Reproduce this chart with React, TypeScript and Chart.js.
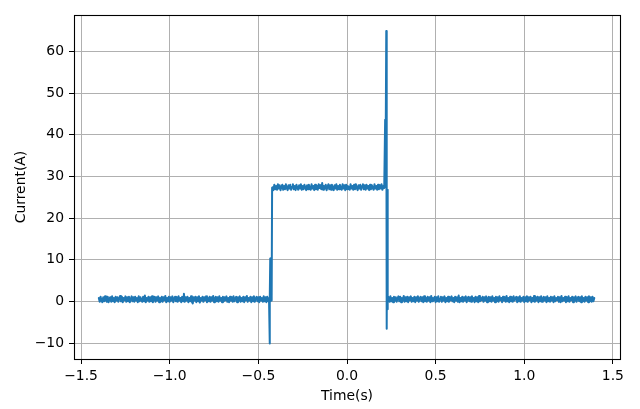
import React, { useEffect, useRef } from "react";
import { Chart, registerables } from "chart.js";

Chart.register(...registerables);

// Sampled current (A); uniform sampling segments
const sampleStep = 0.005;
const offStart = -1.4; // first "off" segment start time (s)
const offValues = [
  0.8, -0.1, 1.1, 0.2, -0.2, 1.0, 0.0, 1.2, 0.3, -0.1,
  1.1, -0.2, 0.7, 1.0, -0.1, 1.2, 0.0, 0.8, -0.2, 1.1,
  0.2, 1.0, -0.1, 0.7, 1.3, 0.0, 1.1, -0.2, 0.8, 0.3,
  1.2, -0.1, 1.0, 0.0, 1.1, -0.2, 0.5, 1.2, 0.0, 1.0,
  -0.1, 1.1, 0.2, 0.8, -0.2, 1.2, 0.0, 1.0, 0.3, -0.1,
  1.1, 0.0, 1.4, -0.2, 0.8, 0.2, 1.1, -0.1, 1.0, 0.0,
  1.2, -0.2, 0.7, 1.1, -0.1, 1.0, 0.2, 1.2, -0.2, 0.8,
  0.0, 1.1, -0.1, 1.0, 0.3, 1.3, -0.2, 0.8, 0.0, 1.1,
  -0.1, 1.0, 0.2, 1.2, -0.2, 0.7, 1.1, 0.0, 1.0, -0.1,
  1.2, 0.2, 0.8, -0.2, 1.1, 0.0, 1.8, -0.1, 1.0, 0.2,
  1.1, -0.2, 0.8, 0.0, 1.2, -0.1, -0.5, 1.0, 0.2, 1.1,
  -0.2, 1.0, 0.0, 1.2, -0.3, 0.8, 0.2, 1.1, -0.1, 1.0,
  0.3, 1.2, -0.2, 0.8, 0.0, 1.1, -0.1, 1.0, 0.2, 1.3,
  -0.2, 0.7, 1.1, 0.0, 1.0, -0.1, 1.2, 0.2, 0.8, -0.2,
  1.1, 0.0, 1.0, 0.3, 1.2, -0.1, 0.8, -0.2, 1.1, 0.2,
  1.0, -0.1, 1.2, 0.0, 0.7, 1.1, -0.2, 1.0, 0.2, 1.2,
  -0.1, 0.8, 0.0, 1.1, -0.2, 1.0, 0.3, 1.3, -0.1, 0.8,
  0.2, 1.1, -0.2, 1.0, 0.0, 1.2, -0.1, 0.7, 1.1, 0.0,
  1.0, -0.2, 1.1, 0.2, 0.8, -0.1, 1.2, 0.0, 1.0, -0.2,
  1.1, 0.0, 0.8,
];

// switch-on transient (time, current)
const turnOnTimes = [-0.437, -0.4355, -0.4345, -0.433, -0.432, -0.428, -0.425, -0.4225];
const turnOnValues = [0.5, -10.1, 0.6, 10.3, 0.0, 1.0, 0.2, 27.3];

const onStart = -0.42;
const onValues = [
  27.4, 26.7, 28.0, 26.9, 27.7, 26.8, 28.1, 27.1, 27.9, 26.7,
  27.5, 28.0, 26.8, 27.7, 26.9, 28.1, 27.2, 26.7, 27.9, 27.1,
  28.0, 26.8, 27.5, 28.1, 26.9, 27.7, 26.7, 28.0, 27.2, 26.8,
  27.9, 27.1, 28.1, 26.8, 27.7, 26.9, 28.0, 27.4, 26.7, 27.9,
  26.9, 28.0, 27.2, 26.8, 28.1, 27.1, 27.7, 26.7, 28.0, 26.9,
  27.7, 26.8, 28.1, 27.2, 27.9, 26.9, 28.4, 26.8, 27.7, 27.1,
  28.0, 26.7, 27.5, 28.1, 26.9, 27.9, 26.8, 28.0, 27.2, 26.7,
  27.9, 27.1, 28.1, 26.8, 27.7, 26.9, 28.0, 27.2, 26.8, 28.1,
  27.1, 27.9, 26.7, 28.0, 26.9, 27.7, 27.4, 26.8, 28.1, 27.1,
  27.7, 26.8, 28.0, 26.9, 28.1, 27.2, 26.7, 27.9, 27.1, 28.0,
  26.8, 27.7, 28.1, 26.9, 27.9, 26.8, 28.0, 27.1, 27.7, 26.7,
  28.0, 26.9, 27.9, 27.2, 26.8, 28.1, 27.1, 27.7, 26.8, 28.0,
  26.9, 27.9, 27.1, 28.1, 26.8, 27.7, 27.2,
];

// switch-off transient (time, current)
const turnOffTimes = [0.2152, 0.217, 0.2215, 0.2225, 0.224, 0.2255, 0.2265, 0.228, 0.2295, 0.231];
const turnOffValues = [43.6, 27.4, 64.9, 27.6, 27.2, -6.6, 26.8, 0.5, -1.9, 1.2];

const offStart2 = 0.235;
const offValues2 = [
  1.0, -0.1, 1.2, 0.0, 0.8, -0.2, 1.1, 0.2, 1.0, -0.1,
  0.7, 1.2, 0.0, 1.1, -0.2, 0.8, 0.2, 1.3, -0.1, 1.0,
  0.0, 1.1, -0.2, 1.0, 0.3, 1.2, -0.1, 0.8, 0.0, 1.1,
  -0.2, 1.0, 0.2, 1.2, -0.1, 0.7, 1.1, 0.0, 1.0, -0.2,
  1.2, 0.0, 0.8, -0.1, 1.1, 0.2, 1.0, -0.2, 1.3, 0.0,
  0.8, 0.3, 1.1, -0.2, 1.0, 0.0, 1.2, -0.1, 0.7, 1.1,
  -0.1, 1.0, 0.2, 1.2, -0.2, 0.8, 0.0, 1.1, -0.1, 1.0,
  0.3, 1.2, 0.0, 0.8, -0.2, 1.1, 0.2, 1.0, -0.1, 1.4,
  -0.2, 0.8, 0.0, 1.1, -0.1, 1.0, 0.2, 1.2, -0.2, 0.7,
  1.1, 0.0, 1.0, -0.1, 1.2, 0.2, 0.8, -0.2, 1.1, 0.0,
  1.0, -0.2, 1.3, 0.0, 0.8, 0.3, 1.1, -0.1, 1.0, 0.2,
  1.2, -0.2, 0.7, 1.1, 0.0, 1.0, -0.1, 1.2, 0.2, 0.8,
  -0.2, 1.1, 0.0, 1.0, -0.1, 1.2, 0.3, 0.8, -0.2, 1.1,
  0.2, 1.0, -0.1, 1.3, 0.0, 0.8, -0.2, 1.1, 0.0, 1.0,
  -0.1, 1.2, 0.2, 0.7, 1.1, -0.2, 1.0, 0.0, 1.2, -0.1,
  0.8, 0.2, 1.1, -0.2, 1.0, 0.0, 1.2, -0.1, 1.0, 0.3,
  1.1, -0.2, 0.8, 0.0, 1.3, -0.1, 1.0, 0.2, 1.1, -0.2,
  1.0, 0.0, 1.2, -0.1, 0.7, 1.1, 0.2, 1.0, -0.2, 1.2,
  0.0, 0.8, -0.1, 1.1, 0.2, 1.0, -0.2, 1.2, 0.0, 0.8,
  0.3, 1.1, -0.1, 1.0, -0.2, 1.3, 0.0, 0.8, 0.2, 1.1,
  -0.2, 1.0, 0.0, 1.2, -0.1, 0.8, 0.3, 1.1, -0.2, 1.0,
  0.2, 1.2, -0.1, 0.7, 1.1, 0.0, 1.0, -0.2, 1.2, 0.0,
  0.8, -0.1, 1.1, 0.2, 1.0, -0.2, 1.2, 0.0, 1.0, -0.1,
  1.1, 0.0, 0.8,
];

const xTickValues = [-1.5, -1.0, -0.5, 0.0, 0.5, 1.0, 1.5];
const yTickValues = [-10, 0, 10, 20, 30, 40, 50, 60];
const xLabel = "Time(s)";
const yLabel = "Current(A)";

const FONT = "'DejaVu Sans', sans-serif";
const FS = 13.9;

function fmt(v: number, digits: number): string {
  const s = Math.abs(v).toFixed(digits);
  return v < 0 ? "\u2212" + s : s;
}

function buildPoints() {
  const pts: { x: number; y: number }[] = [];
  offValues.forEach((v, i) => pts.push({ x: offStart + i * sampleStep, y: v }));
  turnOnTimes.forEach((t, i) => pts.push({ x: t, y: turnOnValues[i] }));
  onValues.forEach((v, i) => pts.push({ x: onStart + i * sampleStep, y: v }));
  turnOffTimes.forEach((t, i) => pts.push({ x: t, y: turnOffValues[i] }));
  offValues2.forEach((v, i) => pts.push({ x: offStart2 + i * sampleStep, y: v }));
  return pts;
}

const frame = {
  id: "frame",
  afterDatasetsDraw(chart: any) {
    const { ctx, chartArea: a } = chart;
    ctx.save();
    ctx.strokeStyle = "#000";
    ctx.lineWidth = 1.1;
    ctx.strokeRect(Math.round(a.left) + 0.5, Math.round(a.top) + 0.5, Math.round(a.right - a.left), Math.round(a.bottom - a.top));
    ctx.restore();
  },
};

export default function App() {
  const ref = useRef<HTMLCanvasElement>(null);
  useEffect(() => {
    if (!ref.current) return;
    const chart = new Chart(ref.current, {
      type: "line",
      data: {
        datasets: [
          {
            data: buildPoints(),
            borderColor: "#1f77b4",
            borderWidth: 2,
            borderJoinStyle: "round",
            borderCapStyle: "round",
            pointRadius: 0,
            tension: 0,
            fill: false,
          },
        ],
      },
      options: {
        animation: false,
        responsive: false,
        devicePixelRatio: 1,
        layout: { padding: { top: 15, right: 20, left: 0, bottom: 0 } },
        plugins: { legend: { display: false }, tooltip: { enabled: false } },
        scales: {
          x: {
            type: "linear",
            min: -1.54,
            max: 1.54,
            afterBuildTicks: (s: any) => {
              s.ticks = xTickValues.map((v) => ({ value: v }));
            },
            afterFit: (s: any) => {
              s.height = 50;
            },
            grid: { color: "#b0b0b0", lineWidth: 1, tickColor: "#000", tickLength: 5, tickWidth: 1 },
            border: { display: false },
            ticks: {
              color: "#000",
              font: { family: FONT, size: FS },
              padding: 4,
              maxRotation: 0,
              autoSkip: false,
              callback: (v: any) => fmt(Number(v), 1),
            },
            title: { display: true, text: xLabel, color: "#000", font: { family: FONT, size: FS }, padding: { top: 0, bottom: 4 } },
          },
          y: {
            type: "linear",
            min: -13.84,
            max: 68.75,
            afterBuildTicks: (s: any) => {
              s.ticks = yTickValues.map((v) => ({ value: v }));
            },
            afterFit: (s: any) => {
              s.width = 74;
            },
            grid: { color: "#b0b0b0", lineWidth: 1, tickColor: "#000", tickLength: 5, tickWidth: 1 },
            border: { display: false },
            ticks: {
              color: "#000",
              font: { family: FONT, size: FS },
              padding: 5,
              autoSkip: false,
              callback: (v: any) => fmt(Number(v), 0),
            },
            title: { display: true, text: yLabel, color: "#000", font: { family: FONT, size: FS }, padding: { top: 13, bottom: 0 } },
          },
        },
      },
      plugins: [frame],
    });
    return () => chart.destroy();
  }, []);
  return (
    <div style={{ position: "absolute", left: 0, top: 0, width: 640, height: 409, background: "#fff" }}>
      <canvas ref={ref} width={640} height={409} style={{ width: 640, height: 409, display: "block" }} />
    </div>
  );
}
